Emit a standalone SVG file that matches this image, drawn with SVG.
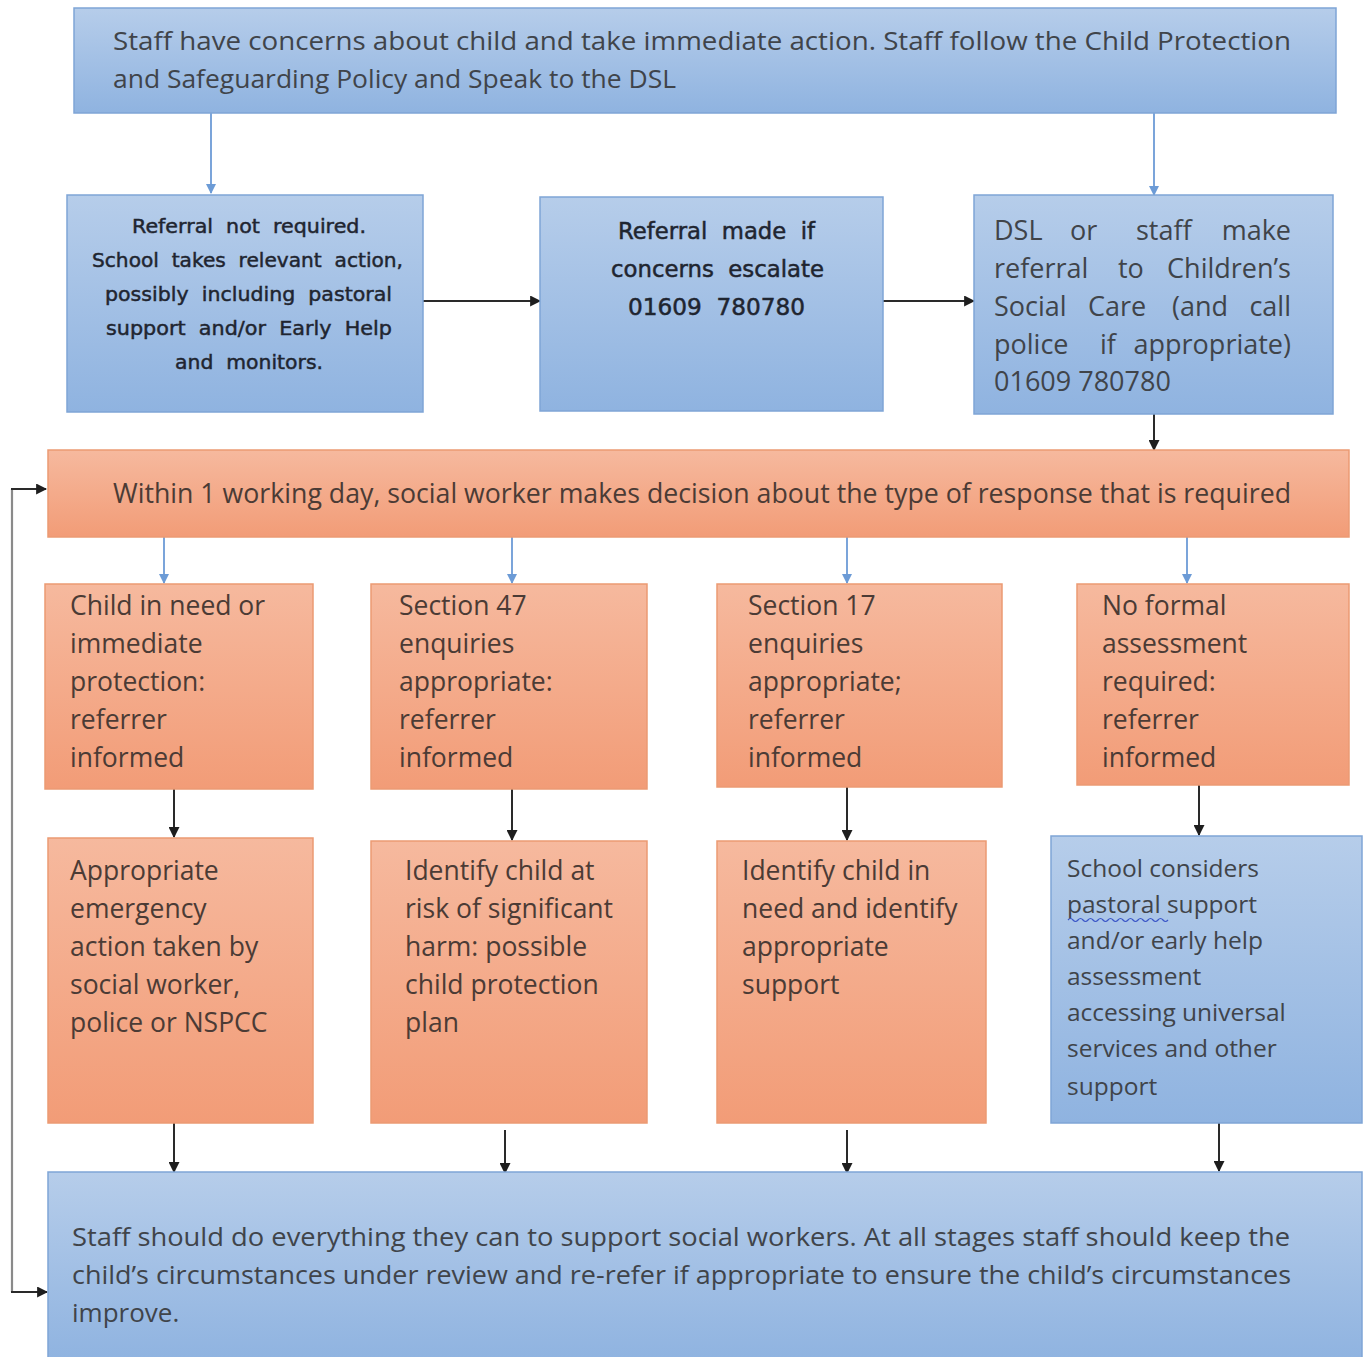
<svg xmlns="http://www.w3.org/2000/svg" width="1366" height="1357" viewBox="0 0 1366 1357">
<style>
.blue{fill:url(#gBlue);stroke:#7fa5d6;stroke-width:1.5}
.orange{fill:url(#gOrange);stroke:#eb9a73;stroke-width:1.5}
.t{font-family:"Open Sans","Liberation Sans",sans-serif;font-size:26px;fill:#40444a}
.to{font-family:"Open Sans","Liberation Sans",sans-serif;font-size:26.5px;fill:#4b3b35}
.tb{font-family:"DejaVu Sans","Liberation Sans",sans-serif;font-size:19px;fill:#1f2530;stroke:#1f2530;stroke-width:0.45}
.tb2{font-family:"DejaVu Sans","Liberation Sans",sans-serif;font-size:23px;fill:#1f2530;stroke:#1f2530;stroke-width:0.5}
.cb{fill:none;stroke:#6c9bd6;stroke-width:1.8}
.ck{fill:none;stroke:#2a2a2a;stroke-width:2}
.cg{fill:none;stroke:#8a8a8a;stroke-width:2.2}
</style>
<defs>
<linearGradient id="gBlue" x1="0" y1="0" x2="0" y2="1">
<stop offset="0" stop-color="#b6cdea"/>
<stop offset="1" stop-color="#8fb3e0"/>
</linearGradient>
<linearGradient id="gOrange" x1="0" y1="0" x2="0" y2="1">
<stop offset="0" stop-color="#f6b99e"/>
<stop offset="1" stop-color="#f29c77"/>
</linearGradient>
<marker id="aBlue" viewBox="0 0 10 10" refX="9" refY="5" markerWidth="10" markerHeight="10" markerUnits="userSpaceOnUse" orient="auto">
<path d="M0,0 L10,5 L0,10 z" fill="#6c9bd6"/>
</marker>
<marker id="aBlack" viewBox="0 0 10 10" refX="9" refY="5" markerWidth="11" markerHeight="11" markerUnits="userSpaceOnUse" orient="auto">
<path d="M0,0 L10,5 L0,10 z" fill="#1e1e1e"/>
</marker>
</defs>
<rect width="1366" height="1357" fill="#ffffff"/>

<g id="connectors">
<path class="cb" d="M211,113 V193" marker-end="url(#aBlue)"/>
<path class="cb" d="M1154,113 V195" marker-end="url(#aBlue)"/>
<path class="ck" d="M423,301 H540" marker-end="url(#aBlack)"/>
<path class="ck" d="M883,301 H974" marker-end="url(#aBlack)"/>
<path class="ck" d="M1154,414 V450" marker-end="url(#aBlack)"/>
<path class="cb" d="M164,537 V583" marker-end="url(#aBlue)"/>
<path class="cb" d="M512,537 V583" marker-end="url(#aBlue)"/>
<path class="cb" d="M847,537 V583" marker-end="url(#aBlue)"/>
<path class="cb" d="M1187,537 V583" marker-end="url(#aBlue)"/>
<path class="ck" d="M174,789 V837" marker-end="url(#aBlack)"/>
<path class="ck" d="M512,789 V840" marker-end="url(#aBlack)"/>
<path class="ck" d="M847,787 V840" marker-end="url(#aBlack)"/>
<path class="ck" d="M1199,785 V835" marker-end="url(#aBlack)"/>
<path class="ck" d="M174,1123 V1172" marker-end="url(#aBlack)"/>
<path class="ck" d="M505,1130 V1173" marker-end="url(#aBlack)"/>
<path class="ck" d="M847,1130 V1173" marker-end="url(#aBlack)"/>
<path class="ck" d="M1219,1123 V1171" marker-end="url(#aBlack)"/>
<path class="cg" d="M12,1292 V489"/>
<path class="ck" d="M11,489 H46" marker-end="url(#aBlack)"/>
<path class="ck" d="M11,1292 H47" marker-end="url(#aBlack)"/>
</g>

<g id="n-start">
<rect class="blue" x="74" y="8" width="1262" height="105"/>
<text class="t" x="113" y="50" textLength="1178" lengthAdjust="spacingAndGlyphs">Staff have concerns about child and take immediate action. Staff follow the Child Protection</text>
<text class="t" x="113" y="88" textLength="563" lengthAdjust="spacingAndGlyphs">and Safeguarding Policy and Speak to the DSL</text>
</g>

<g id="n-no-referral">
<rect class="blue" x="67" y="195" width="356" height="217"/>
<text class="tb" x="132" y="233" textLength="234" lengthAdjust="spacingAndGlyphs" xml:space="preserve">Referral  not  required.</text>
<text class="tb" x="92" y="267" textLength="311" lengthAdjust="spacingAndGlyphs" xml:space="preserve">School  takes  relevant  action,</text>
<text class="tb" x="105" y="301" textLength="287" lengthAdjust="spacingAndGlyphs" xml:space="preserve">possibly  including  pastoral</text>
<text class="tb" x="106" y="335" textLength="286" lengthAdjust="spacingAndGlyphs" xml:space="preserve">support  and/or  Early  Help</text>
<text class="tb" x="175" y="369" textLength="148" lengthAdjust="spacingAndGlyphs" xml:space="preserve">and  monitors.</text>
</g>

<g id="n-escalate">
<rect class="blue" x="540" y="197" width="343" height="214"/>
<text class="tb2" x="618" y="239" textLength="197" lengthAdjust="spacingAndGlyphs" xml:space="preserve">Referral  made  if</text>
<text class="tb2" x="611" y="277" textLength="213" lengthAdjust="spacingAndGlyphs" xml:space="preserve">concerns  escalate</text>
<text class="tb2" x="628" y="315" textLength="177" lengthAdjust="spacingAndGlyphs" xml:space="preserve">01609  780780</text>
</g>

<g id="n-dsl-referral">
<rect class="blue" x="974" y="195" width="359" height="219"/>
<text class="t" x="994" y="240" style="font-size:27px">DSL</text>
<text class="t" x="1070" y="240" style="font-size:27px">or</text>
<text class="t" x="1136" y="240" style="font-size:27px">staff</text>
<text class="t" x="1291" y="240" text-anchor="end" style="font-size:27px">make</text>
<text class="t" x="994" y="278" style="font-size:27px">referral</text>
<text class="t" x="1118" y="278" style="font-size:27px">to</text>
<text class="t" x="1291" y="278" text-anchor="end" style="font-size:27px">Children’s</text>
<text class="t" x="994" y="316" style="font-size:27px">Social</text>
<text class="t" x="1088" y="316" style="font-size:27px">Care</text>
<text class="t" x="1172" y="316" style="font-size:27px">(and</text>
<text class="t" x="1291" y="316" text-anchor="end" style="font-size:27px">call</text>
<text class="t" x="994" y="354" style="font-size:27px">police</text>
<text class="t" x="1100" y="354" style="font-size:27px">if</text>
<text class="t" x="1291" y="354" text-anchor="end" style="font-size:27px">appropriate)</text>
<text class="t" x="994" y="391" style="font-size:27px">01609 780780</text>
</g>

<g id="n-decision">
<rect class="orange" x="48" y="450" width="1301" height="87"/>
<text class="to" x="113" y="503" textLength="1178" lengthAdjust="spacingAndGlyphs">Within 1 working day, social worker makes decision about the type of response that is required</text>
</g>

<g id="n-child-in-need">
<rect class="orange" x="45" y="584" width="268" height="205"/>
<text class="to" x="70" y="615">Child in need or</text>
<text class="to" x="70" y="653">immediate</text>
<text class="to" x="70" y="691">protection:</text>
<text class="to" x="70" y="729">referrer</text>
<text class="to" x="70" y="767">informed</text>
</g>

<g id="n-section47">
<rect class="orange" x="371" y="584" width="276" height="205"/>
<text class="to" x="399" y="615">Section 47</text>
<text class="to" x="399" y="653">enquiries</text>
<text class="to" x="399" y="691">appropriate:</text>
<text class="to" x="399" y="729">referrer</text>
<text class="to" x="399" y="767">informed</text>
</g>

<g id="n-section17">
<rect class="orange" x="717" y="584" width="285" height="203"/>
<text class="to" x="748" y="615">Section 17</text>
<text class="to" x="748" y="653">enquiries</text>
<text class="to" x="748" y="691">appropriate;</text>
<text class="to" x="748" y="729">referrer</text>
<text class="to" x="748" y="767">informed</text>
</g>

<g id="n-no-assessment">
<rect class="orange" x="1077" y="584" width="272" height="201"/>
<text class="to" x="1102" y="615">No formal</text>
<text class="to" x="1102" y="653">assessment</text>
<text class="to" x="1102" y="691">required:</text>
<text class="to" x="1102" y="729">referrer</text>
<text class="to" x="1102" y="767">informed</text>
</g>

<g id="n-emergency">
<rect class="orange" x="48" y="838" width="265" height="285"/>
<text class="to" x="70" y="880">Appropriate</text>
<text class="to" x="70" y="918">emergency</text>
<text class="to" x="70" y="956">action taken by</text>
<text class="to" x="70" y="994">social worker,</text>
<text class="to" x="70" y="1032">police or NSPCC</text>
</g>

<g id="n-significant-harm">
<rect class="orange" x="371" y="841" width="276" height="282"/>
<text class="to" x="405" y="880">Identify child at</text>
<text class="to" x="405" y="918">risk of significant</text>
<text class="to" x="405" y="956">harm: possible</text>
<text class="to" x="405" y="994">child protection</text>
<text class="to" x="405" y="1032">plan</text>
</g>

<g id="n-identify-need">
<rect class="orange" x="717" y="841" width="269" height="282"/>
<text class="to" x="742" y="880">Identify child in</text>
<text class="to" x="742" y="918">need and identify</text>
<text class="to" x="742" y="956">appropriate</text>
<text class="to" x="742" y="994">support</text>
</g>

<g id="n-school-considers">
<rect class="blue" x="1051" y="836" width="311" height="287"/>
<text class="t" x="1067" y="877" style="font-size:24.5px">School considers</text>
<text class="t" x="1067" y="913" style="font-size:24.5px">pastoral support</text>
<path d="M1068,920 q2.5,-3 5,0 t5,0 t5,0 t5,0 t5,0 t5,0 t5,0 t5,0 t5,0 t5,0 t5,0 t5,0 t5,0 t5,0 t5,0 t5,0 t5,0 t5,0 t5,0 t5,0" fill="none" stroke="#3b56c8" stroke-width="1.2"/>
<text class="t" x="1067" y="949" style="font-size:24.5px">and/or early help</text>
<text class="t" x="1067" y="985" style="font-size:24.5px">assessment</text>
<text class="t" x="1067" y="1021" style="font-size:24.5px">accessing universal</text>
<text class="t" x="1067" y="1057" style="font-size:24.5px">services and other</text>
<text class="t" x="1067" y="1095" style="font-size:24.5px">support</text>
</g>

<g id="n-support-review">
<rect class="blue" x="48" y="1172" width="1314" height="190"/>
<text class="t" x="72" y="1246" textLength="1218" lengthAdjust="spacingAndGlyphs">Staff should do everything they can to support social workers. At all stages staff should keep the</text>
<text class="t" x="72" y="1284" textLength="1219" lengthAdjust="spacingAndGlyphs">child’s circumstances under review and re-refer if appropriate to ensure the child’s circumstances</text>
<text class="t" x="72" y="1322">improve.</text>
</g>
</svg>
